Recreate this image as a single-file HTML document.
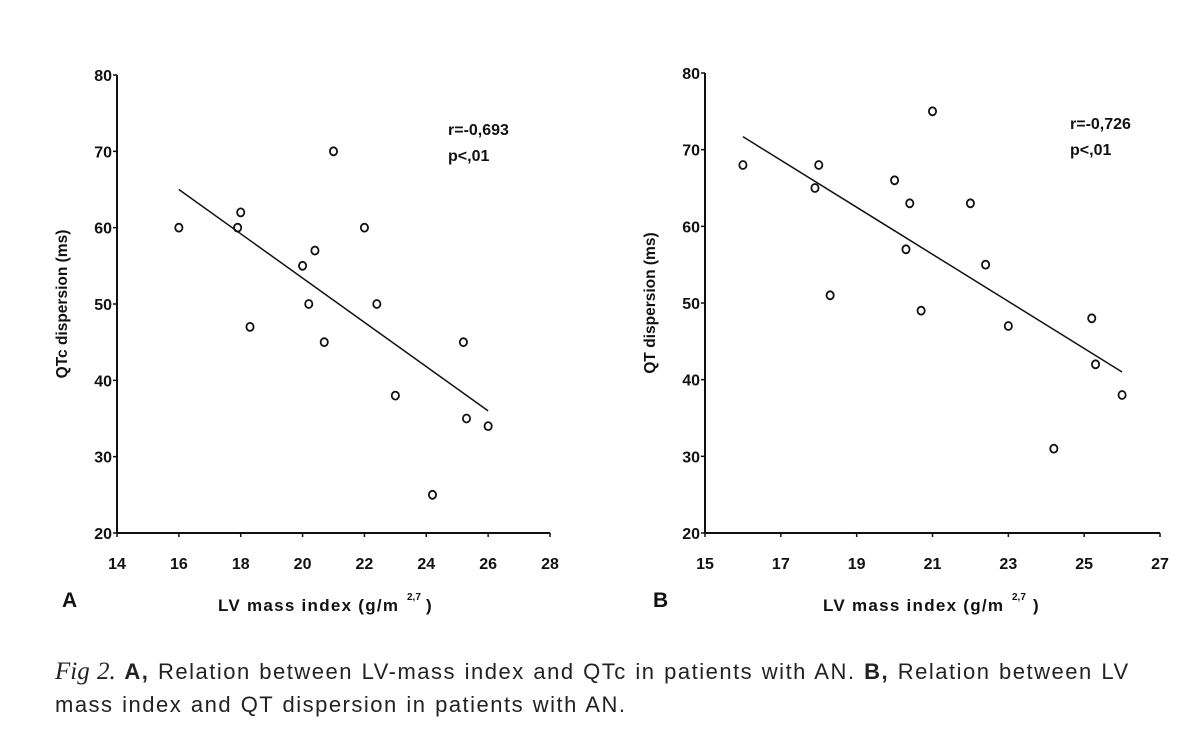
<!DOCTYPE html>
<html><head><meta charset="utf-8"><style>
body{margin:0;background:#fff;width:1204px;height:744px;overflow:hidden}
svg{position:absolute;left:0;top:0}
.cap{position:absolute;left:55px;top:655px;width:1140px;white-space:nowrap;font-family:"Liberation Sans",sans-serif;font-size:22px;letter-spacing:1.5px;word-spacing:1px;line-height:33px;color:#222}
.cap i{font-family:"Liberation Serif",serif;font-size:25px;letter-spacing:0}
</style></head><body>
<svg id="s" width="1204" height="744" font-family="Liberation Sans, sans-serif" font-weight="bold" fill="#111"></svg>
<div class="cap"><i>Fig 2.</i> <b>A,</b> Relation between LV-mass index and QTc in patients with AN. <b>B,</b> Relation between LV<br>mass index and QT dispersion in patients with AN.</div>
<script>
const s=document.getElementById('s');let h='';
function panel(o){
 const X=v=>o.x0+(v-o.xmin)*(o.x1-o.x0)/(o.xmax-o.xmin);
 const Y=v=>o.y0+(v-20)*(o.y1-o.y0)/60;
 h+=`<line x1="${o.x0}" y1="${o.y1}" x2="${o.x0}" y2="${o.y0}" stroke="#111" stroke-width="2"/>`;
 h+=`<line x1="${o.x0}" y1="${o.y0}" x2="${o.x1}" y2="${o.y0}" stroke="#111" stroke-width="2"/>`;
 for(let v=20;v<=80;v+=10){h+=`<line x1="${o.x0-4}" x2="${o.x0}" y1="${Y(v)}" y2="${Y(v)}" stroke="#111" stroke-width="1.5"/><text x="${o.x0-5}" y="${Y(v)+6}" font-size="16" text-anchor="end">${v}</text>`;}
 for(let v=o.xmin;v<=o.xmax;v+=2){h+=`<line x1="${X(v)}" x2="${X(v)}" y1="${o.y0}" y2="${o.y0+4}" stroke="#111" stroke-width="1.5"/><text x="${X(v)}" y="${o.y0+36}" font-size="16" text-anchor="middle">${v}</text>`;}
 o.pts.forEach(p=>{h+=`<ellipse cx="${X(p[0])}" cy="${Y(p[1])}" rx="3.6" ry="4" fill="none" stroke="#111" stroke-width="1.8"/>`;});
 h+=`<line x1="${X(o.l[0])}" y1="${Y(o.l[1])}" x2="${X(o.l[2])}" y2="${Y(o.l[3])}" stroke="#111" stroke-width="1.5"/>`;
 h+=`<text x="${o.rx}" y="${o.ry}" font-size="16">${o.r}</text><text x="${o.rx}" y="${o.ry+26}" font-size="16">p&lt;,01</text>`;
 h+=`<text transform="translate(${o.x0-50},${(o.y0+o.y1)/2}) rotate(-90)" font-size="15.5" text-anchor="middle">${o.yl}</text>`;
 h+=`<text x="${o.lx}" y="${o.y0+74}" font-size="21">${o.lab}</text>`;
 h+=`<text x="${o.tx}" y="${o.y0+78}" font-size="17" textLength="180" lengthAdjust="spacing">LV mass index (g/m</text><text x="${o.tx+189}" y="${o.y0+67}" font-size="10">2,7</text><text x="${o.tx+o.pw}" y="${o.y0+78}" font-size="17">)</text>`;
}
panel({x0:117,x1:550,xmin:14,xmax:28,y0:533,y1:75,rx:448,ry:135,r:'r=-0,693',yl:'QTc dispersion (ms)',lab:'A',lx:62,tx:218,pw:208,
 pts:[[16,60],[17.9,60],[18,62],[18.3,47],[20,55],[20.2,50],[20.4,57],[20.7,45],[21,70],[22,60],[22.4,50],[23,38],[24.2,25],[25.2,45],[25.3,35],[26,34]],l:[16,65,26,36]});
panel({x0:705,x1:1160,xmin:15,xmax:27,y0:533,y1:73,rx:1070,ry:129,r:'r=-0,726',yl:'QT dispersion (ms)',lab:'B',lx:653,tx:823,pw:210,
 pts:[[16,68],[17.9,65],[18,68],[18.3,51],[20,66],[20.3,57],[20.4,63],[20.7,49],[21,75],[22,63],[22.4,55],[23,47],[24.2,31],[25.2,48],[25.3,42],[26,38]],l:[16,71.7,26,41]});
s.innerHTML=h;
</script>
</body></html>
